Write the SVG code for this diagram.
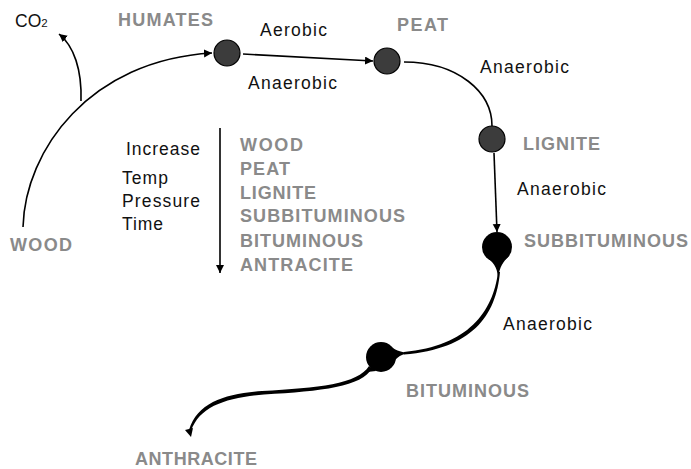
<svg xmlns="http://www.w3.org/2000/svg" width="691" height="469" viewBox="0 0 691 469">
<style>
.g{font-family:"Liberation Sans",Arial,sans-serif;font-weight:bold;font-size:18px;fill:#8a8a8a}
.b{font-family:"Liberation Sans",Arial,sans-serif;font-size:17.5px;fill:#111}
.ln{fill:none;stroke:#000;stroke-width:1.6}
.nd{fill:#3c3c3c;stroke:#000;stroke-width:1.2}
</style>
<defs>
<marker id="ah" markerUnits="userSpaceOnUse" markerWidth="10" markerHeight="10" refX="8" refY="4" orient="auto">
<path d="M0,0 L8,4 L0,8 Z" fill="#000"/>
</marker>
</defs>
<rect width="691" height="469" fill="#fff"/>
<g id="connectors">
<path class="ln" d="M23,227 C25,150 90,60 212,53" marker-end="url(#ah)"/>
<path class="ln" d="M81,101 C82,70 74,46 59,34" marker-end="url(#ah)"/>
<path class="ln" d="M243,54 L373,61" marker-end="url(#ah)"/>
<path class="ln" d="M404,62 C458,62 492,92 492,126"/>
<path class="ln" d="M494,153 L497,232" marker-end="url(#ah)"/>
<path class="ln" d="M220,128 L220,273" marker-end="url(#ah)"/>
<path d="M498,272 C493,312 468,346 404,352 L404,354.5 C472,349 496,316 500,272 Z" fill="#000"/>
<path d="M369,366 C358,384 318,388 262,391 C225,394 198,402 189,430 L191,431 C200,406 226,398 264,394.5 C322,391 362,387 372,368 Z" fill="#000"/>
<path d="M185,430 L193,428 L191,437 Z" fill="#000"/>
</g>
<g id="n-wood"><text class="g" x="10" y="251" textLength="62">WOOD</text></g>
<g id="n-co2"><text class="b" x="15" y="27" font-size="17">CO<tspan font-size="11.5">2</tspan></text></g>
<g id="n-humates">
<circle class="nd" cx="227" cy="53" r="13"/>
<text class="g" x="118" y="26" textLength="95">HUMATES</text>
</g>
<g id="n-peat">
<circle class="nd" cx="387" cy="61" r="13"/>
<text class="g" x="397" y="31" textLength="51">PEAT</text>
</g>
<g id="n-lignite">
<circle class="nd" cx="492" cy="139" r="13"/>
<text class="g" x="523" y="150" textLength="77">LIGNITE</text>
</g>
<g id="n-subbituminous">
<circle cx="497" cy="247" r="15" fill="#000"/>
<path d="M486,257 C493,262 497,266 498,278 C500,266 503,262 509,256 Z" fill="#000"/>
<text class="g" x="524" y="247" textLength="164">SUBBITUMINOUS</text>
</g>
<g id="n-bituminous">
<circle cx="381" cy="357" r="15" fill="#000"/>
<path d="M389,345 C395,350 399,352 409,353 C399,355 395,358 389,369 Z" fill="#000"/>
<path d="M372,367 L367,372 L376,371 Z" fill="#000"/>
<text class="g" x="406" y="397" textLength="123">BITUMINOUS</text>
</g>
<g id="n-anthracite"><text class="g" x="135" y="465" textLength="122">ANTHRACITE</text></g>
<g id="labels">
<text class="b" x="260" y="36" textLength="67">Aerobic</text>
<text class="b" x="248" y="89" textLength="89">Anaerobic</text>
<text class="b" x="480" y="73" textLength="89">Anaerobic</text>
<text class="b" x="517" y="195" textLength="89">Anaerobic</text>
<text class="b" x="503" y="330" textLength="89">Anaerobic</text>
</g>
<g id="legend">
<text class="b" x="126" y="155" textLength="74">Increase</text>
<text class="b" x="122" y="184" textLength="46">Temp</text>
<text class="b" x="122" y="207" textLength="78">Pressure</text>
<text class="b" x="122" y="230" textLength="41">Time</text>
<text class="g" x="240" y="151" textLength="63">WOOD</text>
<text class="g" x="240" y="175" textLength="50">PEAT</text>
<text class="g" x="240" y="199" textLength="76">LIGNITE</text>
<text class="g" x="240" y="222" textLength="165">SUBBITUMINOUS</text>
<text class="g" x="240" y="247" textLength="123">BITUMINOUS</text>
<text class="g" x="240" y="271" textLength="113">ANTRACITE</text>
</g>
</svg>
